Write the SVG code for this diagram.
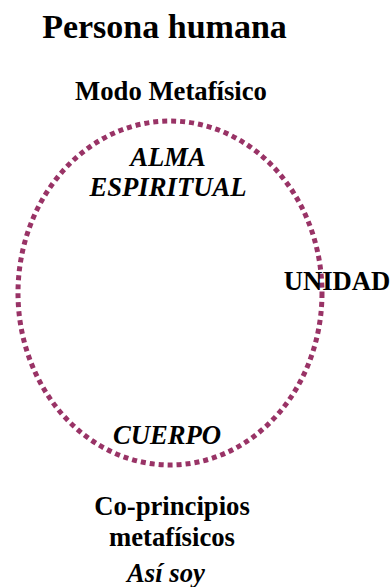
<svg xmlns="http://www.w3.org/2000/svg" width="392" height="587" viewBox="0 0 392 587">
<style>
text{font-family:"Liberation Serif","Times New Roman",serif;font-weight:bold;fill:#000;text-anchor:middle;font-size:26.7px}
.it{font-style:italic}
.ring{fill:none;stroke:#993366;stroke-width:5;stroke-dasharray:5 4}
</style>
<rect width="392" height="587" fill="#fff"/>
<g id="title"><text x="164.5" y="38" style="font-size:34px">Persona humana</text></g>
<g id="modo"><text x="171" y="100">Modo Metafísico</text></g>
<g id="connectors"><ellipse class="ring" cx="170" cy="293" rx="152" ry="172"/></g>
<g id="alma"><text class="it" x="168" y="166">ALMA</text><text class="it" x="168" y="196">ESPIRITUAL</text></g>
<g id="unidad"><text x="337" y="290">UNIDAD</text></g>
<g id="cuerpo"><text class="it" x="167" y="444">CUERPO</text></g>
<g id="coprincipios"><text x="172" y="515">Co-principios</text><text x="172" y="546">metafísicos</text><text class="it" x="166" y="582">Así soy</text></g>
</svg>
